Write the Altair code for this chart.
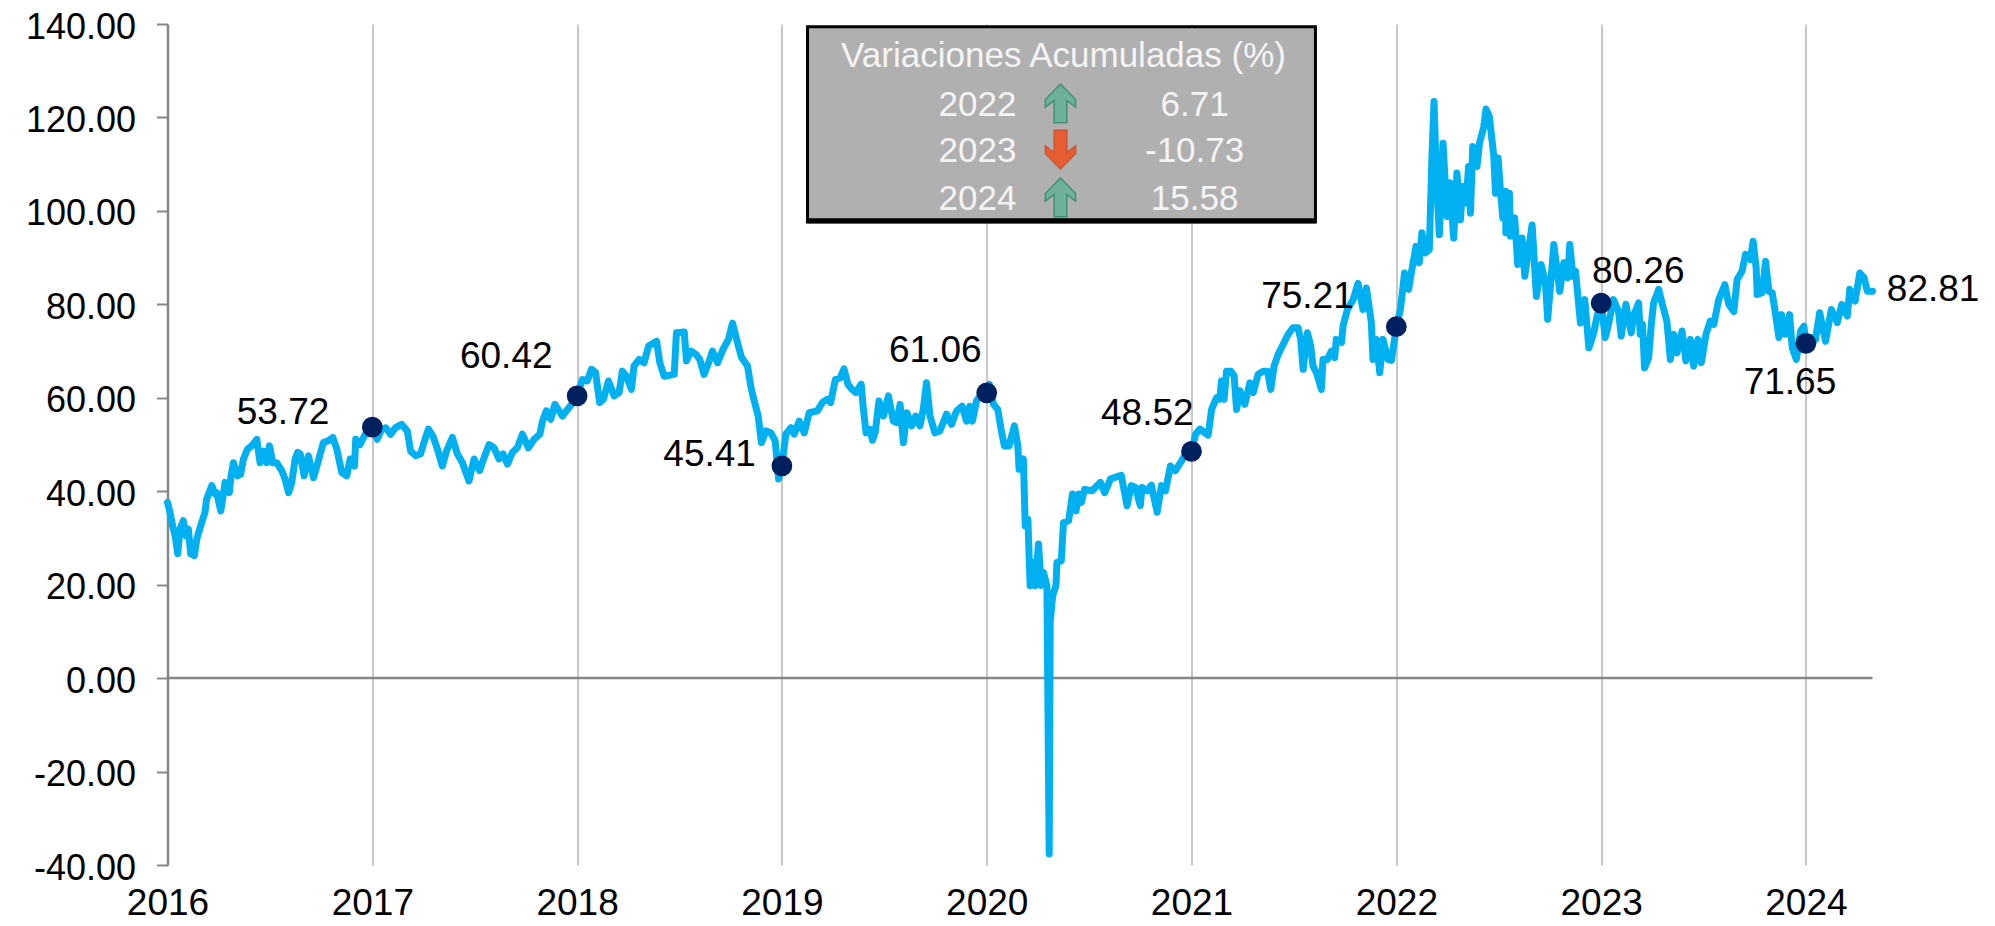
import altair as alt
import pandas as pd

FONT = "Liberation Sans"

# Position within each year (fraction of the year) and price
t2016 = [0,.012,.025,.037,.05,.061,.077,.09,.102,.113,.131,.143,.162,.183,.191,.216,.232,.24,.26,.273,.281,.302,.309,.322,.341,.357,.371,.39,.411,.436,.452,.468,.485,.498,.514,.533,.558,.574,.591,.607,.623,.636,.648,.667,.688,.713,.732,.761,.786,.807,.827,.851,.875,.892,.913,.919,.94,.957,.981]
v2016 = [37.6,35.5,32.6,30.5,26.6,31.9,33.7,30.5,31.9,26.6,26.2,29.8,32.6,35.5,38.3,41.2,39.4,39.7,35.8,39.4,41.9,39.7,42.9,46.1,43.3,43.6,46.9,49,49.7,51.1,46.1,48.6,46.1,49.7,46.1,46.1,44.4,42.6,39.7,41.9,46.9,48.3,48,43.3,47.6,42.9,45.8,50.4,50.8,51.5,49,44,43.3,46.9,45.4,51.1,50,51.5,53.3]
t2017 = [0,.024,.046,.065,.09,.114,.143,.171,.187,.212,.236,.252,.274,.296,.318,.342,.362,.391,.415,.44,.472,.497,.524,.546,.57,.594,.619,.638,.66,.684,.708,.733,.762,.79,.818,.831,.85,.871,.892,.928,.96,.985]
v2017 = [53.72,51.1,53.3,53.6,52.2,53.6,54.3,52.9,48.6,47.6,48,50.4,53.3,51.8,49,45.4,48.6,51.5,48,46.1,42.2,46.9,44.4,47.2,50,49.3,46.9,48,45.8,48.3,49.3,52.2,49.3,51.1,52.2,55,57.2,55.4,58.6,56.1,57.9,59.3]
t2018 = [0,.026,.05,.07,.09,.11,.129,.153,.181,.205,.221,.241,.265,.278,.303,.327,.349,.388,.404,.425,.474,.485,.523,.534,.555,.58,.599,.62,.642,.661,.686,.713,.739,.759,.783,.803,.832,.849,.865,.884,.9,.922,.946,.967,.984]
v2018 = [60.42,63.9,63.6,66.1,65.4,59,59.7,63.6,60.4,61.1,65.7,64.6,61.8,66.8,68.2,67.5,71.1,72.1,67.5,64.6,65,73.9,74.1,67.9,70,69.3,68.2,65,67.5,70,67.5,70.4,72.5,76,71.8,68.6,66.8,62.2,59.3,56.1,50.4,52.9,52.5,50.8,42.6]
t2019 = [0,.019,.044,.06,.084,.109,.133,.173,.198,.222,.238,.261,.285,.303,.322,.342,.361,.387,.398,.411,.431,.442,.455,.474,.496,.52,.544,.56,.577,.593,.61,.634,.653,.674,.69,.706,.723,.747,.771,.804,.828,.853,.88,.901,.917,.93,.95,.974]
v2019 = [45.41,52.2,53.6,52.2,55,52.5,56.8,57.2,59,59.7,59,63.9,64.3,66.2,62.9,61.8,61.1,62.9,57.5,52.5,53.2,50.9,52.5,59.3,56.1,60.4,55,54.7,58.6,50.4,56.8,54,56.1,54,57.5,63.2,56.1,52.5,52.9,56.5,54.3,57.2,58.2,55,58.2,55,59.3,60.8]
t2020 = [0,.013,.033,.054,.07,.086,.109,.135,.152,.158,.179,.188,.201,.212,.228,.236,.253,.266,.277,.294,.305,.31,.322,.338,.343,.364,.375,.4,.419,.436,.449,.462,.478,.514,.53,.555,.576,.604,.628,.657,.685,.706,.726,.75,.758,.783,.804,.832,.853,.873,.897,.921,.946,.97]
v2020 = [61.06,62.9,58.6,57.5,53.3,49.7,49.7,54,49.7,44.7,46.9,32.6,34,19.8,24.8,19.8,28.7,19.8,22.6,19.8,-37.63,12,17.6,19.8,24.8,25.1,33.3,33.7,39.4,35.8,39.4,37.6,40.4,40.1,40.8,41.9,39.7,42.6,43,43.4,36.9,41.2,40.8,36.9,40.8,40.1,41.3,35.5,41.2,40.1,45.4,44.4,46.1,47.9]
t2021 = [0,.02,.041,.062,.081,.098,.122,.138,.146,.159,.171,.192,.208,.22,.236,.26,.285,.301,.325,.35,.371,.387,.403,.423,.447,.472,.496,.52,.533,.545,.566,.582,.593,.61,.634,.642,.663,.683,.699,.707,.732,.74,.761,.789,.813,.837,.854,.878,.886,.903,.919,.935,.959,.976]
v2021 = [48.52,52.2,53.3,52.6,52,57.5,60,59.7,63.6,59.7,65.7,65.7,64.7,57.5,61.5,58.6,63.2,61.1,65,65.7,65.7,61.8,66.8,69.3,71.4,73.6,75,75,72.5,66.1,73.9,71.1,66.8,65.4,61.8,68.2,68.2,70,68.6,72.5,71.8,75.4,78.9,81,84.5,78.9,83.5,76.1,68.2,72.5,65.4,72.5,68.2,68]
t2022 = [0,.02,.04,.06,.073,.096,.112,.125,.142,.161,.174,.184,.195,.21,.228,.248,.261,.28,.296,.313,.324,.34,.353,.362,.373,.394,.406,.427,.438,.454,.476,.484,.497,.508,.52,.532,.535,.552,.557,.578,.593,.614,.627,.663,.684,.707,.728,.739,.769,.798,.818,.837,.847,.862,.875,.899,.92,.94,.964,.98]
v2022 = [75.21,78.9,86.7,83.2,86.7,92.4,88.9,95.3,91,91.7,111.7,123.4,108.1,94.9,114.5,98.8,106,94.2,108.1,98.1,105.2,101.7,109.5,99.5,113.8,109.5,114.5,118,121.8,120.2,111.7,103.8,111.3,104.5,98.5,104.2,95.3,103.8,94.6,98.5,88.5,94.2,86,97,81.7,88.5,84.6,76.8,92.8,82.8,88.9,85.7,92.8,86,87.1,76,81,70.7,73.9,77.5]
t2023 = [0,.02,.036,.06,.085,.098,.121,.147,.158,.183,.191,.202,.212,.232,.245,.256,.281,.297,.321,.338,.354,.37,.395,.414,.436,.452,.473,.489,.512,.533,.55,.574,.604,.623,.648,.664,.688,.705,.729,.742,.757,.762,.786,.803,.819,.835,.852,.868,.881,.9,.92,.933,.953,.974,.99]
v2023 = [80.26,72.9,75.7,81,78.5,73.2,80,73.9,77.5,80.3,73.6,75.7,66.4,68.6,75.7,80.3,83.2,80.3,76.4,68.2,73.6,69.6,74.3,67.9,72.5,66.8,72.5,67.5,73.6,76.4,75.7,81,84.2,80,78.5,85.3,87.1,90.7,89.6,93.5,87.8,82.1,82.5,89.2,82.8,82.5,77.8,72.9,77.8,73.6,77.8,70.7,68.2,74.3,75.3]
t2024 = [0,.028,.047,.067,.096,.124,.153,.175,.202,.214,.24,.263,.284,.3,.325]
v2024 = [71.65,72.9,72.5,78.2,72.1,78.9,76.1,80,77.5,83.2,80.7,86.7,85.7,82.8,82.81]

# Year-start markers
dot_years = [2017, 2018, 2019, 2020, 2021, 2022, 2023, 2024]
dot_values = [53.72, 60.42, 45.41, 61.06, 48.52, 75.21, 80.26, 71.65]

# Value labels
label_text = ["53.72", "60.42", "45.41", "61.06", "48.52", "75.21", "80.26", "71.65", "82.81"]
label_x = [2016.564, 2017.654, 2018.647, 2019.749, 2020.784, 2021.566, 2023.181, 2023.922, 2024.621]
label_y = [57.1, 69.1, 48.1, 70.5, 57.0, 82.1, 87.3, 63.6, 83.5]

# Summary panel
panel_title = "Variaciones Acumuladas (%)"
panel_years = ["2022", "2023", "2024"]
panel_values = ["6.71", "-10.73", "15.58"]
panel_dirs = ["up", "down", "up"]
panel_row_y = [122.7, 112.8, 102.6]
panel_arrow_y = [123.0, 113.1, 102.9]

x_ticks = list(range(2016, 2025))
y_ticks = list(range(-40, 141, 20))
X_DOMAIN = [2016, 2024.325]
Y_DOMAIN = [-40, 140]

rows = []
for yr, ts, vs in [(2016, t2016, v2016), (2017, t2017, v2017), (2018, t2018, v2018),
                   (2019, t2019, v2019), (2020, t2020, v2020), (2021, t2021, v2021),
                   (2022, t2022, v2022), (2023, t2023, v2023), (2024, t2024, v2024)]:
    rows += [{"x": yr + t, "y": v} for t, v in zip(ts, vs)]
series = pd.DataFrame(rows)

x_axis = alt.Axis(values=x_ticks, format="d", title=None, grid=True, gridColor="#b5b5b5",
                  gridWidth=1.5, domain=False, ticks=False, labelFont=FONT, labelFontSize=37,
                  labelColor="#000000", labelPadding=20, labelAngle=0, labelOverlap=False,
                  labelFlush=False, labelBound=False)
y_axis = alt.Axis(values=y_ticks, title=None, grid=False, domainColor="#868686",
                  labelExpr="(datum.value < 0 ? '-' : '') + format(abs(datum.value), '.2f')",
                  domainWidth=2.5, tickColor="#868686", tickWidth=2, tickSize=11,
                  labelFont=FONT, labelFontSize=36, labelColor="#000000", labelPadding=21,
                  labelOffset=3, labelOverlap=False)


def X(field="x"):
    return alt.X(f"{field}:Q", scale=alt.Scale(domain=X_DOMAIN, nice=False, zero=False), axis=x_axis)


def Y(field="y"):
    return alt.Y(f"{field}:Q", scale=alt.Scale(domain=Y_DOMAIN, nice=False), axis=y_axis)


zero_line = alt.Chart(pd.DataFrame({"x": [X_DOMAIN[0]], "x2": [X_DOMAIN[1]], "y": [0]})).mark_rule(
    color="#868686", strokeWidth=2.5
).encode(x=X(), x2="x2:Q", y=Y())

line = alt.Chart(series).mark_line(color="#00B0F0", strokeWidth=7, strokeJoin="round", strokeCap="round", clip=False).encode(
    x=X(), y=Y(), order="x:Q"
)

dots = alt.Chart(pd.DataFrame({"x": dot_years, "y": dot_values})).mark_point(
    filled=True, fill="#002060", opacity=1, size=430
).encode(x=X(), y=Y())

labels = alt.Chart(pd.DataFrame({"x": label_x, "y": label_y, "t": label_text})).mark_text(
    font=FONT, fontSize=37, color="#000000", align="center", baseline="middle", dy=2
).encode(x=X(), y=Y(), text="t:N")

panel = alt.Chart(pd.DataFrame({"x": [2019.125], "x2": [2021.605], "y": [139.4], "y2": [97.6]})).mark_rect(
    fill="#b0b0b0", stroke="#000000", strokeWidth=3
).encode(x=X(), x2="x2:Q", y=Y(), y2="y2:Q")

panel_shadow = alt.Chart(pd.DataFrame({"x": [2019.125], "x2": [2021.605], "y": [97.9]})).mark_rule(
    color="#000000", strokeWidth=5
).encode(x=X(), x2="x2:Q", y=Y())

title_text = alt.Chart(pd.DataFrame({"x": [2020.375], "y": [133.2], "t": [panel_title]})).mark_text(
    font=FONT, fontSize=35, color="#f4f4f4", align="center", baseline="middle"
).encode(x=X(), y=Y(), text="t:N")

panel_df = pd.DataFrame({"year": panel_years, "val": panel_values, "dir": panel_dirs, "y": panel_row_y,
                         "ya": panel_arrow_y,
                         "xa": [2019.955] * 3, "xb": [2020.36] * 3, "xc": [2021.015] * 3})

year_text = alt.Chart(panel_df).mark_text(
    font=FONT, fontSize=35, color="#f4f4f4", align="center", baseline="middle"
).encode(x=X("xa"), y=Y(), text="year:N")

val_text = alt.Chart(panel_df).mark_text(
    font=FONT, fontSize=35, color="#f4f4f4", align="center", baseline="middle"
).encode(x=X("xc"), y=Y(), text="val:N")

UP = "M0,-1 L0.78,-0.2 L0.78,0.2 L0.33,-0.15 L0.33,1 L-0.33,1 L-0.33,-0.15 L-0.78,0.2 L-0.78,-0.2 Z"
DOWN = "M0,1 L0.78,0.2 L0.78,-0.2 L0.33,0.15 L0.33,-1 L-0.33,-1 L-0.33,0.15 L-0.78,-0.2 L-0.78,0.2 Z"
arrows = alt.Chart(panel_df).mark_point(filled=True, opacity=1, size=1500, strokeWidth=1.5).encode(
    x=X("xb"), y=Y("ya"),
    shape=alt.Shape("dir:N", scale=alt.Scale(domain=["up", "down"], range=[UP, DOWN]), legend=None),
    fill=alt.Fill("dir:N", scale=alt.Scale(domain=["up", "down"], range=["#6fb09a", "#e85c33"]), legend=None),
    stroke=alt.Stroke("dir:N", scale=alt.Scale(domain=["up", "down"], range=["#3f8f77", "#cf5530"]), legend=None),
)

chart = alt.layer(
    zero_line, line, dots, labels, panel, panel_shadow, title_text, year_text, arrows, val_text
).properties(
    width=1705, height=841,
    padding={"left": 159.5, "top": 16, "right": 114, "bottom": 60},
    autosize=alt.AutoSizeParams(type="none"),
    background="#ffffff",
).configure_view(stroke=None)

chart.save("out.html", embed_options={"renderer": "svg", "actions": False})
